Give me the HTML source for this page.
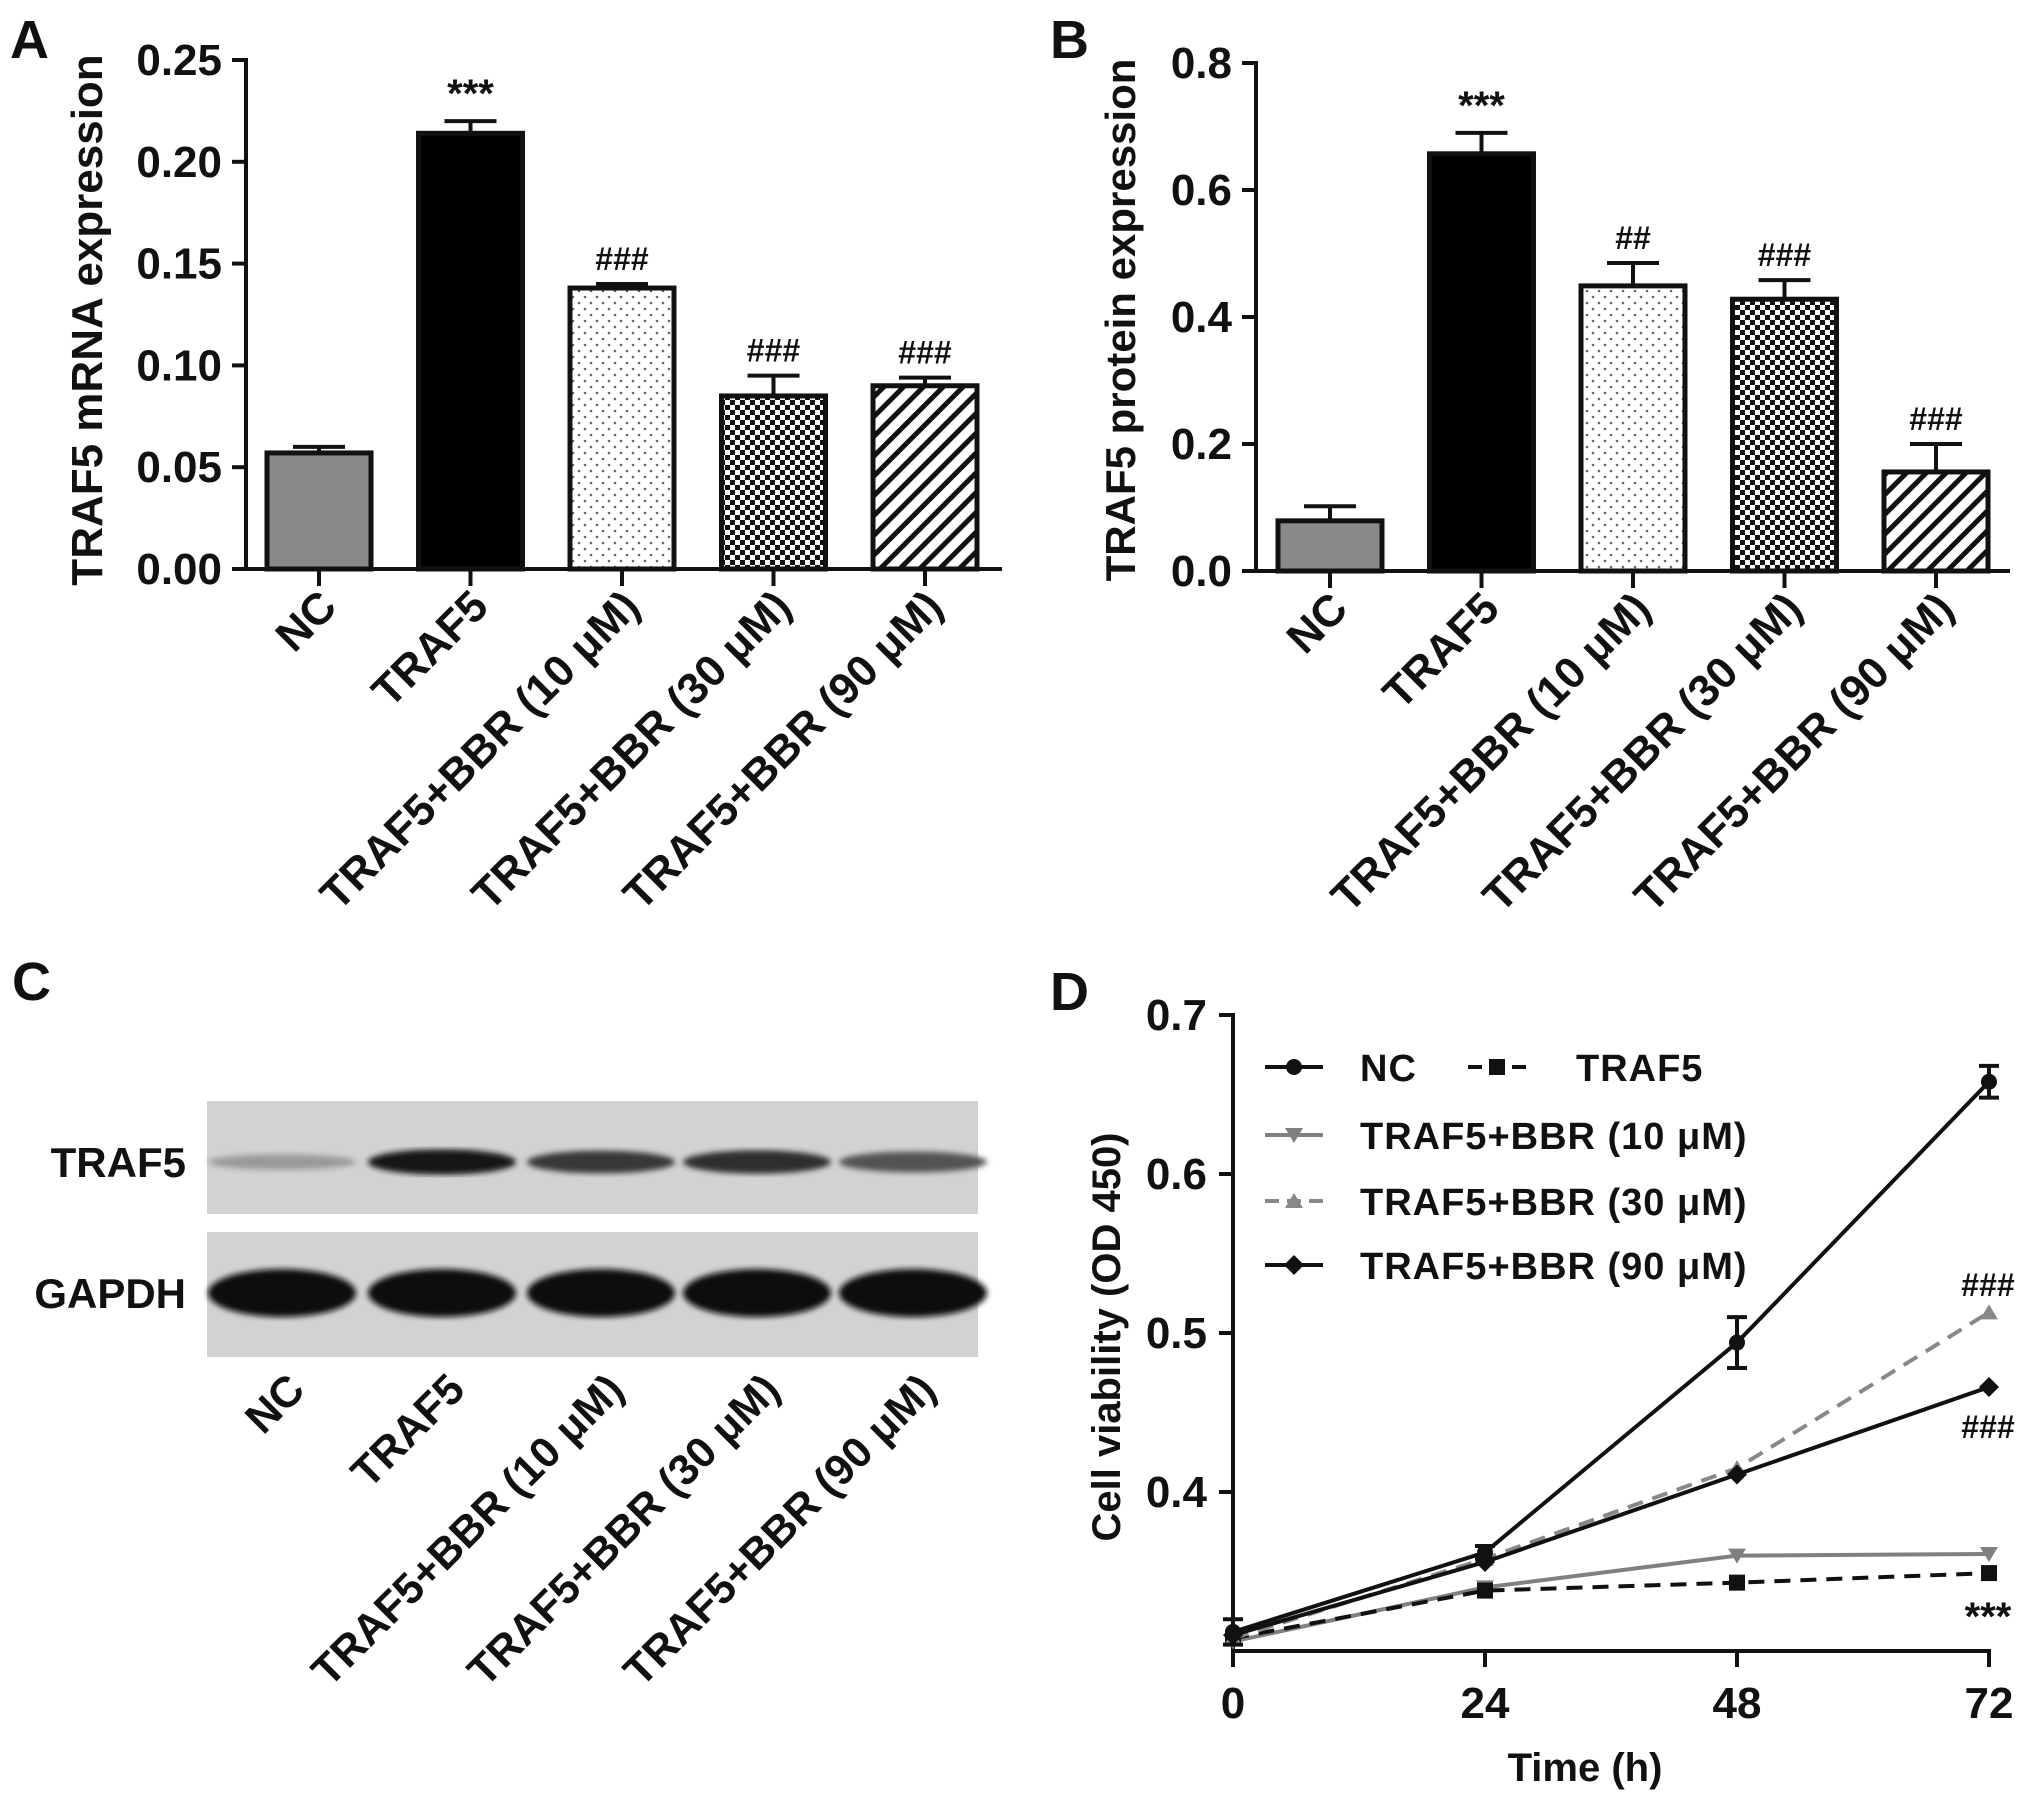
<!DOCTYPE html>
<html><head><meta charset="utf-8"><style>
html,body{margin:0;padding:0;background:#fff}
svg{display:block}
text{font-family:"Liberation Sans",Arial,sans-serif;font-weight:bold;fill:#111}
</style></head><body>
<svg id="fig" width="2031" height="1798" viewBox="0 0 2031 1798" xmlns="http://www.w3.org/2000/svg">
<defs>
<pattern id="dots" width="12" height="12" patternUnits="userSpaceOnUse"><rect width="12" height="12" fill="#fff"/><circle cx="3" cy="3" r="1.3" fill="#666"/><circle cx="9" cy="9" r="1.3" fill="#666"/></pattern>
<pattern id="check" width="10" height="10" patternUnits="userSpaceOnUse"><rect width="10" height="10" fill="#fff"/><rect width="5" height="5" fill="#111"/><rect x="5" y="5" width="5" height="5" fill="#111"/></pattern>
<pattern id="hatch" width="14" height="14" patternUnits="userSpaceOnUse" patternTransform="rotate(45)"><rect width="14" height="14" fill="#fff"/><rect width="5" height="14" fill="#111"/></pattern>
<filter id="blur"><feGaussianBlur stdDeviation="3"/></filter>
</defs>
<g id="panelA"></g>
<g id="panelB"></g>
<g id="panelC"></g>
<g id="panelD"></g>
</svg>
<script>
const groups = ["NC","TRAF5","TRAF5+BBR (10 μM)","TRAF5+BBR (30 μM)","TRAF5+BBR (90 μM)"];
const mrnaValues = [0.057,0.214,0.138,0.085,0.090];
const mrnaErrors = [0.003,0.006,0.002,0.010,0.004];
const mrnaMarks = ["","***","###","###","###"];
const mrnaTicks = ["0.00","0.05","0.10","0.15","0.20","0.25"];
const proteinValues = [0.079,0.657,0.449,0.428,0.156];
const proteinErrors = [0.023,0.033,0.036,0.030,0.044];
const proteinMarks = ["","***","##","###","###"];
const proteinTicks = ["0.0","0.2","0.4","0.6","0.8"];
const bandTraf5 = [0.2,0.95,0.75,0.8,0.6];
const bandGapdh = [1,1,1,1,1];
const timePoints = [0,24,48,72];
const timeTicks = ["0","24","48","72"];
const odTicks = ["0.4","0.5","0.6","0.7"];
const seriesNames = ["NC","TRAF5","TRAF5+BBR (10 μM)","TRAF5+BBR (30 μM)","TRAF5+BBR (90 μM)"];
const sNC = [0.312,0.362,0.494,0.658];
const sTRAF5 = [0.308,0.338,0.343,0.349];
const sBBR10 = [0.306,0.340,0.360,0.361];
const sBBR30 = [0.308,0.358,0.415,0.513];
const sBBR90 = [0.310,0.356,0.411,0.466];
const errNC = [0.008,0.004,0.016,0.010];

const NS="http://www.w3.org/2000/svg";
function mk(parent,tag,attrs,txt){const e=document.createElementNS(NS,tag);for(const k in attrs)e.setAttribute(k,attrs[k]);if(txt!==undefined)e.textContent=txt;parent.appendChild(e);return e;}
const fills=["#8a8a8a","#000","url(#dots)","url(#check)","url(#hatch)"];

function barPanel(g,o){
  const y=v=>o.y0-(v/o.max)*(o.y0-o.yTop);
  const x=i=>o.x0+o.first+i*o.step;
  let e=mk(g,'line',{x1:o.x0,y1:o.yTop-2,x2:o.x0,y2:o.y0+2,stroke:'#111','stroke-width':4});
  
  e=mk(g,'line',{x1:o.x0-14,y1:o.y0,x2:o.xEnd,y2:o.y0,stroke:'#111','stroke-width':4});
  
  o.ticks.forEach((t,i)=>{const v=parseFloat(t);const yy=y(v);
    mk(g,'line',{x1:o.x0-14,y1:yy,x2:o.x0,y2:yy,stroke:'#111','stroke-width':4});
    e=mk(g,'text',{x:o.x0-24,y:yy+15,'text-anchor':'end','font-size':44},t);
    });
  e=mk(g,'text',{transform:`translate(${o.titleX},${o.titleY}) rotate(-90)`,'text-anchor':'middle','font-size':o.titleSize},o.title);
  
  e=mk(g,'text',{x:o.lx,y:o.ly,'font-size':54},o.label);
  
  o.vals.forEach((v,i)=>{const cx=x(i);const hw=o.bw/2;
    const top=y(v),et=y(v+o.errs[i]);
    e=mk(g,'line',{x1:cx,y1:top,x2:cx,y2:et,stroke:'#111','stroke-width':4});
    
    mk(g,'line',{x1:cx-hw/2,y1:et,x2:cx+hw/2,y2:et,stroke:'#111','stroke-width':4});
    e=mk(g,'rect',{x:cx-hw,y:top,width:o.bw,height:o.y0-top,fill:fills[i],stroke:'#111','stroke-width':5});
    
    mk(g,'line',{x1:cx,y1:o.y0,x2:cx,y2:o.y0+17,stroke:'#111','stroke-width':4});
    if(o.marks[i]){e=mk(g,'text',{x:cx,y:et-14,'text-anchor':'middle','font-size':o.marks[i][0]=='*'?40:32,'font-weight':o.marks[i][0]=='*'?'bold':'normal'},o.marks[i]);
      }
    e=mk(g,'text',{transform:`translate(${cx+20},${o.y0+40}) rotate(-45)`,'text-anchor':'end','font-size':44},groups[i]);
    
  });
}
barPanel(document.getElementById('panelA'),{x0:246,y0:569,yTop:60,max:0.25,xEnd:1002,first:73,step:151.5,bw:104,
  vals:mrnaValues,errs:mrnaErrors,marks:mrnaMarks,ticks:mrnaTicks,title:"TRAF5 mRNA expression",titleX:102,titleY:320,titleSize:44,label:"A",lx:10,ly:58});
barPanel(document.getElementById('panelB'),{x0:1256,y0:571,yTop:63,max:0.8,xEnd:2010,first:74,step:151.5,bw:104,
  vals:proteinValues,errs:proteinErrors,marks:proteinMarks,ticks:proteinTicks,title:"TRAF5 protein expression",titleX:1135,titleY:320,titleSize:42,label:"B",lx:1050,ly:58});

(function(){
  const g=document.getElementById('panelC');
  let e=mk(g,'text',{x:12,y:1000,'font-size':54},"C");
  
  const bx=207,bw=771;const lanes=[282,442,601,757,913];
  const strips=[{y:1101,h:113,cy:1162,name:'TRAF5',vals:bandTraf5,bh:13},{y:1232,h:125,cy:1293,name:'GAPDH',vals:bandGapdh,bh:24}];
  strips.forEach(s=>{
    e=mk(g,'rect',{x:bx,y:s.y,width:bw,height:s.h,fill:'#d2d2d2'});
    
    e=mk(g,'text',{x:186,y:s.cy+15,'text-anchor':'end','font-size':42},s.name);
    
    const bg=mk(g,'g',{filter:'url(#blur)'});
    s.vals.forEach((v,i)=>{
      const c=Math.round(190-180*v);
      e=mk(bg,'ellipse',{cx:lanes[i],cy:s.cy,rx:74,ry:s.bh*(0.5+0.5*v),fill:`rgb(${c},${c},${c})`});
      
    });
  });
  lanes.forEach((lx,i)=>{
    e=mk(g,'text',{transform:`translate(${lx+25},${1392}) rotate(-45)`,'text-anchor':'end','font-size':43},groups[i]);
    
  });
})();

(function(){
  const g=document.getElementById('panelD');
  const x0=1233,x72=1989,y0=1651,yT=1015;
  const X=t=>x0+(t/72)*(x72-x0);
  const Y=v=>y0-(v-0.3)/0.4*(y0-yT);
  let e=mk(g,'text',{x:1050,y:1010,'font-size':54},"D");
  
  e=mk(g,'line',{x1:x0,y1:yT-2,x2:x0,y2:y0+2,stroke:'#111','stroke-width':4});
  
  e=mk(g,'line',{x1:x0-2,y1:y0,x2:x72+2,y2:y0,stroke:'#111','stroke-width':4});
  
  odTicks.forEach(t=>{const yy=Y(parseFloat(t));
    mk(g,'line',{x1:x0-14,y1:yy,x2:x0,y2:yy,stroke:'#111','stroke-width':4});
    e=mk(g,'text',{x:x0-26,y:yy+15,'text-anchor':'end','font-size':44},t);
    });
  timePoints.forEach((t,i)=>{const xx=X(t);
    mk(g,'line',{x1:xx,y1:y0,x2:xx,y2:y0+16,stroke:'#111','stroke-width':4});
    e=mk(g,'text',{x:xx,y:1718,'text-anchor':'middle','font-size':44},timeTicks[i]);
    });
  e=mk(g,'text',{x:1585,y:1781,'text-anchor':'middle','font-size':40},"Time (h)");
  
  e=mk(g,'text',{transform:`translate(1120,1337) rotate(-90)`,'text-anchor':'middle','font-size':40},"Cell viability (OD 450)");
  

  function marker(p,type,cx,cy,col){
    if(type=='circle')return mk(p,'circle',{cx,cy,r:8,fill:col});
    if(type=='square')return mk(p,'rect',{x:cx-8,y:cy-8,width:16,height:16,fill:col});
    if(type=='down')return mk(p,'polygon',{points:`${cx-9},${cy-7} ${cx+9},${cy-7} ${cx},${cy+8}`,fill:col});
    if(type=='up')return mk(p,'polygon',{points:`${cx-9},${cy+7} ${cx+9},${cy+7} ${cx},${cy-8}`,fill:col});
    return mk(p,'polygon',{points:`${cx},${cy-10} ${cx+10},${cy} ${cx},${cy+10} ${cx-10},${cy}`,fill:col});
  }
  const series=[
    {d:sBBR10,col:'#808080',dash:'',m:'down'},
    {d:sTRAF5,col:'#111',dash:'16 10',m:'square'},
    {d:sBBR30,col:'#888',dash:'16 10',m:'up'},
    {d:sBBR90,col:'#111',dash:'',m:'diamond'},
    {d:sNC,col:'#111',dash:'',m:'circle'}];
  const order=[2,1,3,4,0];
  series.forEach((s,k)=>{
    const sg=mk(g,'g',{});
    
    
    const pts=s.d.map((v,i)=>X(timePoints[i])+','+Y(v)).join(' ');
    mk(sg,'polyline',{points:pts,fill:'none',stroke:s.col,'stroke-width':4,'stroke-dasharray':s.dash});
    s.d.forEach((v,i)=>{e=marker(sg,s.m,X(timePoints[i]),Y(v),s.col);
      });
  });
  sNC.forEach((v,i)=>{const xx=X(timePoints[i]);const a=Y(v+errNC[i]),b=Y(v-errNC[i]);
    e=mk(g,'path',{d:`M${xx},${a}V${b}M${xx-10},${a}H${xx+10}M${xx-10},${b}H${xx+10}`,stroke:'#111','stroke-width':4,fill:'none'});
    });
  [["###",1988,1296,32,'normal'],["###",1988,1438,32,'normal'],["***",1988,1630,40,'bold']].forEach(a=>{
    e=mk(g,'text',{x:a[1],y:a[2],'text-anchor':'middle','font-size':a[3],'font-weight':a[4]},a[0]);
    });
  const lg=mk(g,'g',{});
  
  const leg=[[1265,1067,series[4],0,1360],[1468,1067,series[1],1,1576],[1265,1135,series[0],2,1360],[1265,1201,series[2],3,1360],[1265,1265,series[3],4,1360]];
  leg.forEach(l=>{
    const eg=mk(lg,'g',{});
    
    mk(eg,'line',{x1:l[0],y1:l[1],x2:l[0]+58,y2:l[1],stroke:l[2].col,'stroke-width':4,'stroke-dasharray':l[2].dash?'14 8':''});
    marker(eg,l[2].m,l[0]+29,l[1],l[2].col);
    mk(eg,'text',{x:l[4],y:l[1]+14,'font-size':38,'letter-spacing':1},seriesNames[l[3]]);
  });
})();
</script>
</body></html>
